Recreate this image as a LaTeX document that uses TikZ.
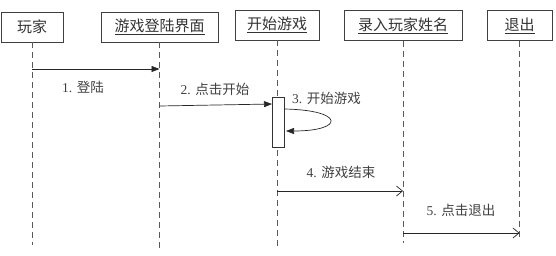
\documentclass[tikz,border=0pt]{standalone}
\usepackage{fontspec}
\setmainfont{Liberation Serif}
\newfontfamily\cjk{Noto Sans CJK SC}
\usetikzlibrary{arrows.meta}
\begin{document}
\begin{tikzpicture}[x=1pt,y=-1pt,
 obj/.style={draw=black!75, line width=0.8pt, minimum height=30pt, inner sep=0pt,
   font=\cjk\fontsize{15}{16}\selectfont, text=black!80},
 life/.style={draw=black!65, dash pattern=on 6pt off 4pt, line width=0.8pt},
 msg/.style={draw=black!85, line width=0.7pt},
 fillarrow/.style={msg, -{Triangle[length=8pt,width=6pt]}},
 openarrow/.style={msg, -{Straight Barb[length=6pt,width=10pt]}},
 lbl/.style={font=\fontsize{13.5}{15}\selectfont, text=black!75, inner sep=0pt},
 actbox/.style={draw=black!80, fill=white, line width=0.7pt, minimum width=12pt, minimum height=50pt, inner sep=0pt}]
\useasboundingbox (0,0) rectangle (556,255);

% objects
\node[obj, minimum width=62pt]  (p)     at (32,27)    {玩家};
\node[obj, minimum width=117pt] (login) at (159.5,27) {\underline{游戏登陆界面}};
\node[obj, minimum width=84pt]  (game)  at (277,25)   {\underline{开始游戏}};
\node[obj, minimum width=118pt] (input) at (403,25.5) {\underline{录入玩家姓名}};
\node[obj, minimum width=65pt]  (quit)  at (519.5,25.5) {\underline{退出}};

% lifeline ends
\coordinate (pe) at (32,245);
\coordinate (le) at (159.5,248);
\coordinate (ge) at (277,248);
\coordinate (ie) at (403,243);
\coordinate (qe) at (519.5,240);

\draw[life] (p.south) -- (pe);
\draw[life] (login.south) -- (le);
\draw[life] (game.south) -- (ge);
\draw[life] (input.south) -- (ie);
\draw[life] (quit.south) -- (qe);

% activation
\node[actbox] (act) at (278,122) {};

% message points
\coordinate (m1s) at (32,69);
\coordinate (m1e) at (159.5,69);
\coordinate (m2s) at (159.5,106);
\coordinate (m2e) at (272,104);
\coordinate (m3s) at (284,109);
\coordinate (m3e) at (286,131);
\coordinate (m4s) at (277,191);
\coordinate (m4e) at (403,191);
\coordinate (m5s) at (403,233);
\coordinate (m5e) at (519.5,233);

\draw[fillarrow] (m1s) -- (m1e);
\draw[fillarrow] (m2s) -- (m2e);
\draw[fillarrow] (m3s) .. controls (345,110) and (345,131) .. (m3e);
\draw[openarrow] (m4s) -- (m4e);
\draw[openarrow] (m5s) -- (m5e);

% labels
\node[lbl] (l1) at (83,87)  {1. {\cjk 登陆}};
\node[lbl] (l2) at (215,89) {2. {\cjk 点击开始}};
\node[lbl, anchor=west] (l3) at (292,98) {3. {\cjk 开始游戏}};
\node[lbl] (l4) at (341,172) {4. {\cjk 游戏结束}};
\node[lbl] (l5) at (461,210) {5. {\cjk 点击退出}};
\end{tikzpicture}
\end{document}
